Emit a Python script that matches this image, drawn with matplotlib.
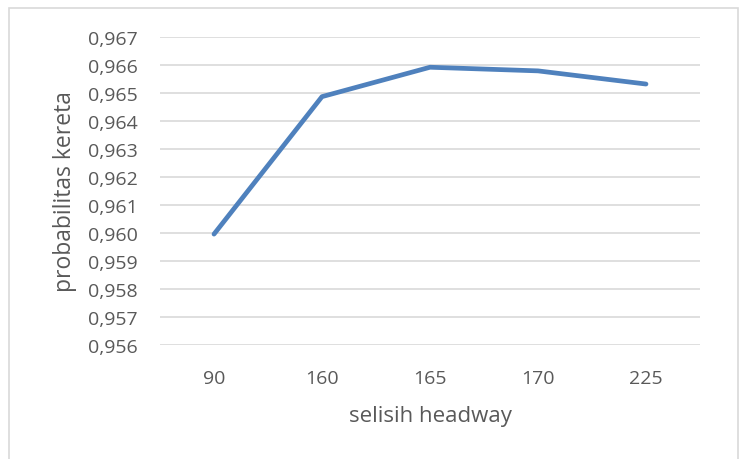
import matplotlib
matplotlib.use("Agg")
import matplotlib.pyplot as plt
from matplotlib.ticker import FuncFormatter, MultipleLocator
from matplotlib.patches import Rectangle

# data
headway = ["90", "160", "165", "170", "225"]
probabilitas = [0.95996, 0.96487, 0.96592, 0.96579, 0.96532]

plt.rcParams['font.family'] = ['Open Sans', 'DejaVu Sans']
text_color = "#595959"

fig = plt.figure(figsize=(7.47, 4.6), dpi=100)
ax = fig.add_axes([160 / 747, 1 - 346 / 460, 540 / 747, 308 / 460])

# outer chart border like Excel
fig.patches.append(Rectangle((9 / 747, -0.05), 729 / 747, 1 - 9 / 460 + 0.05,
                             transform=fig.transFigure, fill=False,
                             edgecolor="#d9d9d9", linewidth=1.2))

x = range(len(headway))
ax.plot(x, probabilitas, color="#4f81bd", linewidth=3.4, solid_capstyle="round",
        solid_joinstyle="round", zorder=3)

ax.set_xlim(-0.5, len(headway) - 0.5)
ax.set_ylim(0.956, 0.967)
ax.yaxis.set_major_locator(MultipleLocator(0.001))
ax.yaxis.set_major_formatter(FuncFormatter(lambda v, p: f"{v:.3f}".replace(".", ",")))
ax.set_xticks(list(x))
ax.set_xticklabels(headway)

ax.grid(axis="y", color="#d9d9d9", linewidth=1.2)
ax.set_axisbelow(True)
for s in ax.spines.values():
    s.set_visible(False)
ax.tick_params(length=0, labelsize=14, colors=text_color)
ax.tick_params(axis="y", pad=16)
ax.tick_params(axis="x", pad=17)

ax.set_xlabel("selisih headway", fontsize=16, color=text_color, labelpad=13)
ax.set_ylabel("probabilitas kereta", fontsize=16.5, color=text_color, labelpad=8)

fig.savefig("out.png", dpi=100)
